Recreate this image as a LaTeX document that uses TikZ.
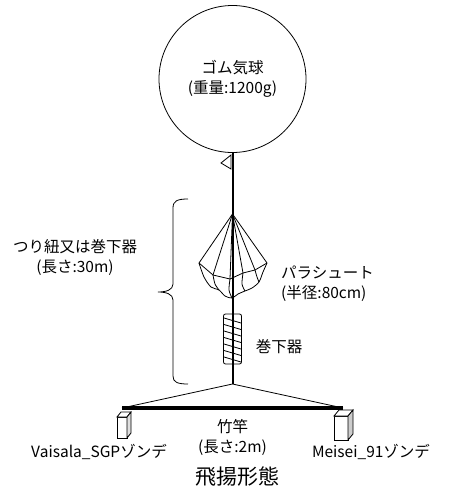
\documentclass[tikz,border=0pt]{standalone}
\usepackage{fontspec}
\setmainfont{Noto Sans CJK JP}
\usetikzlibrary{positioning}

\begin{document}
\begin{tikzpicture}[x=1pt, y=-1pt,
  lbl/.style={font=\fontsize{15.5}{20}\selectfont, align=center, inner sep=0pt},
  cord/.style={line width=2pt},
  outline/.style={line width=0.8pt},
  pole/.style={line width=3.5pt},
]
\useasboundingbox (0,0) rectangle (450,498);

% balloon and tether
\node[draw, outline, circle, minimum size=147pt, lbl] (balloon) at (232.5,79) {ゴム気球\\(重量:1200g)};
\coordinate (apex) at (232.5,384);
\coordinate (poleL) at (122,408);
\coordinate (poleR) at (343,408);
\draw[cord] (balloon.south) -- (apex);
\draw[outline, fill=white] (231,155) -- (221,163) -- (231,169) -- cycle;

% parachute
\coordinate (top) at (232.5,214);
\coordinate (r1) at (199,263);
\coordinate (r2) at (213,275);
\coordinate (r3) at (230,279);
\coordinate (r4) at (243,273);
\coordinate (r5) at (255,270);
\coordinate (r6) at (267,263);
\draw[outline] (r1) -- (r2) -- (r3) -- (r4) -- (r5) -- (r6);
\foreach \r in {r1,r2,r3,r4,r5,r6}
  \draw[outline] (top) -- (\r);
\draw[outline] plot[smooth] coordinates {(r1) (204,277) (211,287) (219,290) (225,296) (232,298) (238,294) (245,291) (252,288) (259,282) (263,272) (r6)};
\draw[outline] plot[smooth] coordinates {(r2) (215,284) (219,290)};
\draw[outline] plot[smooth] coordinates {(r3) (229,290) (232,298)};
\draw[outline] plot[smooth] coordinates {(r4) (242,284) (245,291)};
\draw[outline] plot[smooth] coordinates {(r5) (257,277) (259,282)};
\node[lbl, align=left, anchor=west] (chute) at (281,284) {パラシュート\\(半径:80cm)};

% winder reel
\node[draw, outline, rounded corners=2pt, minimum width=18pt, minimum height=50pt, inner sep=0pt] (reel) at (232.5,339) {};
\foreach \y in {318,324.5,...,358}
  \draw[outline] (224,\y) -- (241,\y+5);
\node[lbl] (reeltxt) at (279,347) {巻下器};

% cord length brace
\draw[outline] (188,199) .. controls (177,199) and (173,201) .. (173,208) -- (173,284)
  .. controls (173,290) and (166,292) .. (158,292) .. controls (166,292) and (173,294) .. (173,300)
  -- (173,376) .. controls (173,382) and (177,384) .. (188,384);
\node[lbl] (cordtxt) at (75,258) {つり紐又は巻下器\\(長さ:30m)};

% bamboo pole with hanging lines
\draw[outline] (apex) -- (poleL);
\draw[outline] (apex) -- (poleR);
\draw[pole] (poleL) -- (poleR);
\node[lbl] (poletxt) at (232.5,437) {竹竿\\(長さ:2m)};

% sondes
\draw[outline, fill=white] (117,417) rectangle (127,438);
\draw[outline, fill=white] (117,417) -- (121,412) -- (131,412) -- (127,417) -- cycle;
\draw[outline, fill=gray!25] (127,417) -- (131,412) -- (131,433) -- (127,438) -- cycle;
\draw[outline, fill=white] (334,416) rectangle (348,440);
\draw[outline, fill=white] (334,416) -- (339,410) -- (353,410) -- (348,416) -- cycle;
\draw[outline, fill=gray!40] (348,416) -- (353,410) -- (353,434) -- (348,440) -- cycle;
\node[lbl] (sondeL) at (99,452) {Vaisala\_SGPゾンデ};
\node[lbl] (sondeR) at (371,452) {Meisei\_91ゾンデ};

\node[font=\fontsize{21}{25}\selectfont, inner sep=0pt] (title) at (237,477) {飛揚形態};
\end{tikzpicture}
\end{document}
